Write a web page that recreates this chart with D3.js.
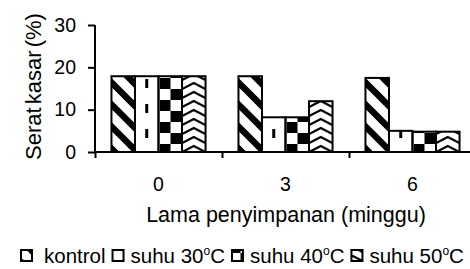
<!DOCTYPE html>
<html>
<head>
<meta charset="utf-8">
<script src="https://cdn.jsdelivr.net/npm/d3@7"></script>
<style>
  body { margin: 0; background: #fff; }
  svg text { font-family: "Liberation Sans", Arial, sans-serif; fill: #000; }
</style>
</head>
<body>
<div id="chart"></div>
<script>
// weeks of storage
const categories = ["0", "3", "6"];
const seriesNames = ["kontrol", "suhu 30°C", "suhu 40°C", "suhu 50°C"];
const kontrol = [17.9, 17.9, 17.5];
const suhu30 = [17.9, 8.2, 5.0];
const suhu40 = [17.9, 8.2, 4.8];
const suhu50 = [17.9, 12.0, 4.8];
const yTicks = [0, 10, 20, 30];

const seriesValues = [kontrol, suhu30, suhu40, suhu50];
const patternIds = ["pDiag", "pDash", "pCheck", "pZig"];

const width = 470, height = 269;
const margin = { top: 25, left: 95, bottom: 117 };

const svg = d3.select("#chart").append("svg")
    .attr("width", width)
    .attr("height", height);

const x0 = d3.scaleBand()
    .domain(categories)
    .range([margin.left, margin.left + 3 * 127]);

const x1 = d3.scaleBand()
    .domain(seriesNames)
    .range([0, x0.bandwidth()])
    .paddingOuter(0.7);

const y = d3.scaleLinear()
    .domain([0, 30])
    .range([height - margin.bottom, margin.top]);

// patterns (bars live inside translated groups, so offsets are group-local)
const defs = svg.append("defs");

// diagonal stripes "\"
const pd = defs.append("pattern").attr("id", "pDiag")
    .attr("patternUnits", "userSpaceOnUse")
    .attr("width", 22).attr("height", 22);
pd.append("rect").attr("width", 22).attr("height", 22).attr("fill", "#fff");
pd.append("path")
    .attr("d", "M-2,-2L24,24M-13,9L13,35M9,-13L35,13")
    .attr("stroke", "#000").attr("stroke-width", 6.5);

// dashed vertical line in the middle of each 30C bar
const dashX = x1(seriesNames[1]) + x1.bandwidth() / 2;
const pdash = defs.append("pattern").attr("id", "pDash")
    .attr("patternUnits", "userSpaceOnUse")
    .attr("x", 0).attr("y", 4)
    .attr("width", x0.step()).attr("height", 25);
pdash.append("rect").attr("width", x0.step()).attr("height", 25).attr("fill", "#fff");
pdash.append("rect").attr("x", dashX - 1.5).attr("y", 0)
    .attr("width", 3).attr("height", 9).attr("fill", "#000");

// checkerboard
const pc = defs.append("pattern").attr("id", "pCheck")
    .attr("patternUnits", "userSpaceOnUse")
    .attr("x", x1(seriesNames[2]) + 1).attr("y", 1)
    .attr("width", 22).attr("height", 22);
pc.append("rect").attr("width", 22).attr("height", 22).attr("fill", "#fff");
pc.append("rect").attr("x", 11).attr("width", 11).attr("height", 11).attr("fill", "#000");
pc.append("rect").attr("y", 11).attr("width", 11).attr("height", 11).attr("fill", "#000");

// zigzag chevrons
const zw = 23.1;
const pz = defs.append("pattern").attr("id", "pZig")
    .attr("patternUnits", "userSpaceOnUse")
    .attr("x", x1(seriesNames[3]) + x1.bandwidth() / 2 - zw / 2)
    .attr("y", 0)
    .attr("width", zw).attr("height", 9);
pz.append("rect").attr("width", zw).attr("height", 9).attr("fill", "#fff");
pz.append("path")
    .attr("d", `M0,8L${zw / 2},2L${zw},8`)
    .attr("fill", "none").attr("stroke", "#000").attr("stroke-width", 2);

// bars
const groups = svg.append("g").selectAll("g")
    .data(categories)
    .join("g")
    .attr("transform", d => `translate(${x0(d)},0)`);

groups.selectAll("rect")
    .data((d, i) => seriesNames.map((s, j) => ({ s, j, v: seriesValues[j][i] })))
    .join("rect")
    .attr("x", d => x1(d.s))
    .attr("y", d => y(d.v))
    .attr("width", x1.bandwidth())
    .attr("height", d => y(0) - y(d.v))
    .attr("fill", d => `url(#${patternIds[d.j]})`)
    .attr("stroke", "#000")
    .attr("stroke-width", 2);

// y axis
const yAxis = svg.append("g")
    .attr("transform", `translate(${margin.left},0)`)
    .call(d3.axisLeft(y).tickValues(yTicks).tickSize(7).tickPadding(12));
yAxis.select(".domain").attr("d", `M0,${y(30)}V${y(0)}`).attr("stroke-width", 2);
yAxis.selectAll(".tick line").attr("stroke-width", 2);
yAxis.selectAll("text").attr("font-size", 19.5).attr("font-family", null);

// x axis: boundary ticks
const xb = d3.scaleLinear().domain([0, 3]).range(x0.range());
const xAxis = svg.append("g")
    .attr("transform", `translate(0,${y(0)})`)
    .call(d3.axisBottom(xb).ticks(3).tickSize(6).tickFormat(""));
xAxis.select(".domain").attr("d", `M${margin.left},0H${width + 10}`).attr("stroke-width", 2);
xAxis.selectAll(".tick line").attr("stroke-width", 2);

// x tick labels at group centres
const xLab = svg.append("g")
    .attr("transform", `translate(0,${y(0)})`)
    .call(d3.axisBottom(x0).tickSize(0).tickPadding(25));
xLab.select(".domain").remove();
xLab.selectAll("text").attr("font-size", 19.5).attr("font-family", null);

// axis titles
svg.append("text")
    .attr("x", 286).attr("y", 222)
    .attr("text-anchor", "middle")
    .attr("font-size", 21.5)
    .text("Lama penyimpanan (minggu)");

svg.append("text")
    .attr("transform", `translate(41,${y(15) - 2}) rotate(-90)`)
    .attr("text-anchor", "middle")
    .attr("font-size", 22)
    .attr("word-spacing", -3)
    .text("Serat kasar (%)");

// legend
const legend = svg.append("g").attr("transform", "translate(0,263)");
let lx = 21;
seriesNames.forEach((name, j) => {
    legend.append("rect")
        .attr("x", lx).attr("y", -13)
        .attr("width", 11).attr("height", 11)
        .attr("fill", `url(#${patternIds[j]})`)
        .attr("stroke", "#000").attr("stroke-width", 2);
    const t = legend.append("text")
        .attr("x", lx + (j === 0 ? 23 : 18))
        .attr("font-size", 20.5);
    const parts = name.split("°");
    t.append("tspan").text(parts[0]);
    if (parts.length > 1) {
        t.append("tspan").attr("font-size", 12).attr("dy", -8).text("o");
        t.append("tspan").attr("dy", 8).text(parts[1]);
    }
    lx += (j === 0 ? 23 : 18) + t.node().getComputedTextLength() + 7;
});
</script>
</body>
</html>
